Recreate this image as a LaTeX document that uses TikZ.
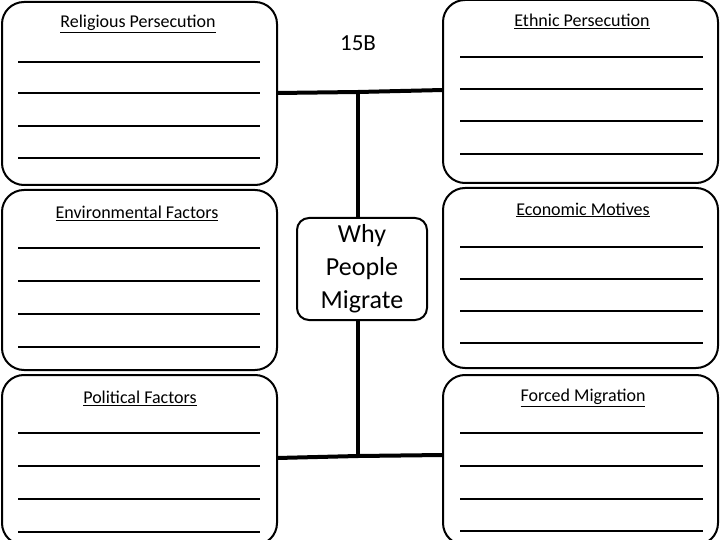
\documentclass[tikz,border=0pt]{standalone}
\usepackage{fontspec}
\setmainfont{Carlito}
\begin{document}
\begin{tikzpicture}[x=1pt,y=-1pt,
  box/.style={draw,line width=2pt,rounded corners=22pt},
  wline/.style={line width=1.2pt},
  conn/.style={line width=4pt},
  ttl/.style={font=\fontsize{18}{21}\selectfont}]
\useasboundingbox (0,0) rectangle (720,540);
% boxes
\draw[box] (2,2) rectangle (277,185);
\draw[box] (2,190) rectangle (277,370);
\draw[box] (2,375) rectangle (277,545);
\draw[box] (443,0) rectangle (718,183);
\draw[box] (443,188) rectangle (718,368);
\draw[box] (443,375) rectangle (718,545);
% titles
\node[ttl] (t1) at (138,24) {\underline{Religious Persecution}};
\node[ttl] (t2) at (137,213) {\underline{Environmental Factors}};
\node[ttl] (t3) at (140,398) {\underline{Political Factors}};
\node[ttl] (t4) at (582,21) {\underline{Ethnic Persecution}};
\node[ttl] (t5) at (583,210) {\underline{Economic Motives}};
\node[ttl] (t6) at (583,398) {\underline{Forced Migration}};
\node[font=\fontsize{23}{27}\selectfont] (n15) at (358,43) {15B};
% writing lines
\foreach \y in {62,93,126,158} \draw[wline] (18,\y) -- (260,\y);
\foreach \y in {248,281,314,347} \draw[wline] (18,\y) -- (260,\y);
\foreach \y in {433,466,499,532} \draw[wline] (18,\y) -- (260,\y);
\foreach \y in {57,89,121,154} \draw[wline] (460,\y) -- (703,\y);
\foreach \y in {247,279,311,343} \draw[wline] (460,\y) -- (703,\y);
\foreach \y in {433,466,499,531} \draw[wline] (460,\y) -- (703,\y);
% connectors
\coordinate (vt) at (358,90);
\coordinate (vb) at (358,457);
\coordinate (l1) at (277,93);
\coordinate (r1) at (443,90);
\coordinate (l2) at (277,458);
\coordinate (r2) at (443,455);
\draw[conn] (vt) -- (vb);
\draw[conn] (l1) -- (358,92) -- (r1);
\draw[conn] (l2) -- (358,456) -- (r2);
% center
\node[draw,line width=2pt,rounded corners=12pt,fill=white,minimum width=130pt,minimum height=102pt,align=center,font=\fontsize{26}{33}\selectfont] (c) at (362,269) {Why\\People\\Migrate};
\end{tikzpicture}
\end{document}
